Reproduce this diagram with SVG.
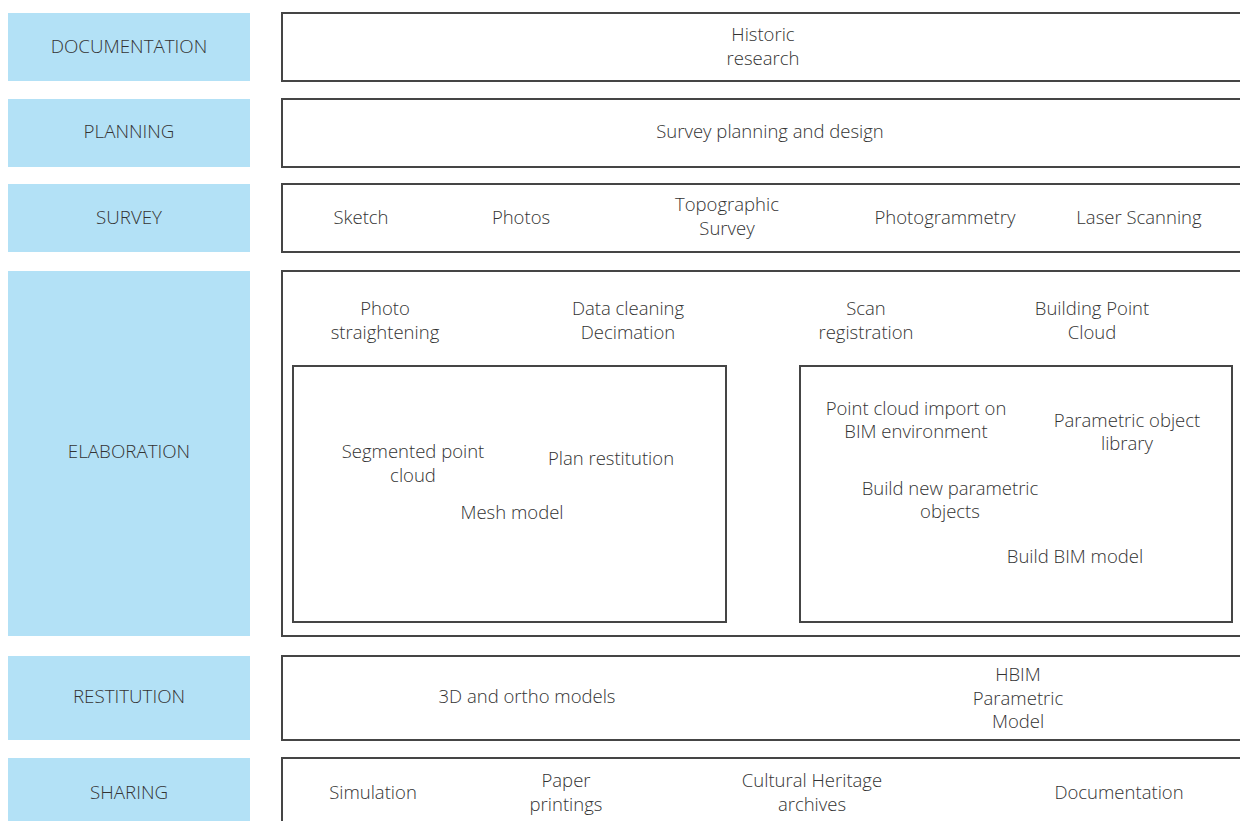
<svg xmlns="http://www.w3.org/2000/svg" width="1240" height="821" viewBox="0 0 1240 821">
<style>
.lab{fill:#b3e1f6;}
.box{fill:#fff;stroke:#454545;stroke-width:2;}
text{font-family:"Open Sans","Noto Sans","DejaVu Sans",sans-serif;font-size:18.5px;font-weight:300;fill:#333;text-anchor:middle;dominant-baseline:middle;}
.cap{font-size:18.8px;}
</style>
<rect width="1240" height="821" fill="#fff"/>
<g id="documentation">
<rect class="lab" x="8" y="13" width="242" height="68"/>
<text class="cap" x="129" y="48">DOCUMENTATION</text>
<rect class="box" x="282" y="13" width="970" height="68"/>
<text x="763" y="36">Historic</text>
<text x="763" y="60">research</text>
</g>
<g id="planning">
<rect class="lab" x="8" y="99" width="242" height="68"/>
<text class="cap" x="129" y="133">PLANNING</text>
<rect class="box" x="282" y="99" width="970" height="68"/>
<text x="770" y="133">Survey planning and design</text>
</g>
<g id="survey">
<rect class="lab" x="8" y="184" width="242" height="68"/>
<text class="cap" x="129" y="219">SURVEY</text>
<rect class="box" x="282" y="184" width="970" height="68"/>
<text x="361" y="219">Sketch</text>
<text x="521" y="219">Photos</text>
<text x="727" y="206">Topographic</text>
<text x="727" y="230">Survey</text>
<text x="945" y="219">Photogrammetry</text>
<text x="1139" y="219">Laser Scanning</text>
</g>
<g id="elaboration">
<rect class="lab" x="8" y="271" width="242" height="365"/>
<text class="cap" x="129" y="453">ELABORATION</text>
<rect class="box" x="282" y="271" width="970" height="365"/>
<text x="385" y="310">Photo</text>
<text x="385" y="334">straightening</text>
<text x="628" y="310">Data cleaning</text>
<text x="628" y="334">Decimation</text>
<text x="866" y="310">Scan</text>
<text x="866" y="334">registration</text>
<text x="1092" y="310">Building Point</text>
<text x="1092" y="334">Cloud</text>
</g>
<g id="elaboration-mesh">
<rect class="box" x="293" y="366" width="433" height="256"/>
<text x="413" y="453">Segmented point</text>
<text x="413" y="477">cloud</text>
<text x="611" y="460">Plan restitution</text>
<text x="512" y="514">Mesh model</text>
</g>
<g id="elaboration-bim">
<rect class="box" x="800" y="366" width="432" height="256"/>
<text x="916" y="410">Point cloud import on</text>
<text x="916" y="433">BIM environment</text>
<text x="1127" y="422">Parametric object</text>
<text x="1127" y="445">library</text>
<text x="950" y="490">Build new parametric</text>
<text x="950" y="513">objects</text>
<text x="1075" y="558">Build BIM model</text>
</g>
<g id="restitution">
<rect class="lab" x="8" y="656" width="242" height="84"/>
<text class="cap" x="129" y="698">RESTITUTION</text>
<rect class="box" x="282" y="656" width="970" height="84"/>
<text x="527" y="698">3D and ortho models</text>
<text x="1018" y="676">HBIM</text>
<text x="1018" y="700">Parametric</text>
<text x="1018" y="723">Model</text>
</g>
<g id="sharing">
<rect class="lab" x="8" y="758" width="242" height="80"/>
<text class="cap" x="129" y="794">SHARING</text>
<rect class="box" x="282" y="758" width="970" height="80"/>
<text x="373" y="794">Simulation</text>
<text x="566" y="782">Paper</text>
<text x="566" y="806">printings</text>
<text x="812" y="782">Cultural Heritage</text>
<text x="812" y="806">archives</text>
<text x="1119" y="794">Documentation</text>
</g>
<g id="connectors"></g>
</svg>
